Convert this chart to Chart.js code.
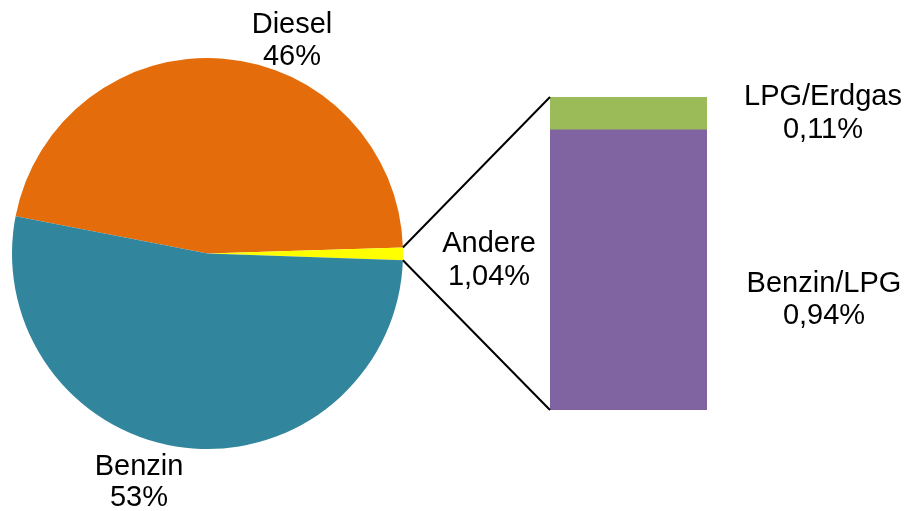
<!DOCTYPE html>
<html>
<head>
<meta charset="utf-8">
<script src="https://cdn.jsdelivr.net/npm/chart.js@4.4.0/dist/chart.umd.min.js"></script>
<style>
	html, body { margin: 0; padding: 0; background: #fff; }
	#wrap { position: relative; width: 905px; height: 511px; }
	#wrap canvas { position: absolute; left: 0; top: 0; }
</style>
</head>
<body>
<div id="wrap">
	<canvas id="pieChart" width="905" height="511"></canvas>
	<canvas id="barChart" width="905" height="511"></canvas>
</div>
<script>
// pie: main fuel types (percent)
let pieLabels = ['Diesel', 'Andere', 'Benzin'];
let pieValues = [46.45, 1.04, 52.51];
let pieColors = ['#E46C0A', '#FFFF00', '#31859C'];

// bar: breakdown of "Andere" (percent)
let barLabels = ['Benzin/LPG', 'LPG/Erdgas'];
let barValues = [0.94, 0.11];
let barColors = ['#8064A2', '#9BBB59'];

let labelFont = '29px "Liberation Sans", Arial, sans-serif';

// label anchors: centre x and two baselines
let pieLabelPos = {
	'Diesel': [292, 33, 65],
	'Andere': [489, 252, 285],
	'Benzin': [139, 475, 506]
};
let barLabelPos = {
	'Benzin/LPG': [824, 292, 324],
	'LPG/Erdgas': [823, 105, 138]
};

function fmt(v, dec) {
	return v.toFixed(dec).replace('.', ',') + '%';
}

function drawLabel(ctx, pos, name, value) {
	ctx.save();
	ctx.font = labelFont;
	ctx.fillStyle = '#000';
	ctx.textAlign = 'center';
	ctx.textBaseline = 'alphabetic';
	ctx.fillText(name, pos[0], pos[1]);
	ctx.fillText(value, pos[0], pos[2]);
	ctx.restore();
}

let pieLabelPlugin = {
	id: 'pieLabels',
	afterDraw(chart) {
		let ctx = chart.ctx;
		pieLabels.forEach(function (name, i) {
			let dec = name === 'Andere' ? 2 : 0;
			drawLabel(ctx, pieLabelPos[name], name, fmt(pieValues[i], dec));
		});
	}
};

let pie = new Chart('pieChart', {
	type: 'pie',
	data: {
		labels: pieLabels,
		datasets: [{
			data: pieValues,
			backgroundColor: pieColors,
			borderWidth: 0
		}]
	},
	options: {
		responsive: false,
		animation: false,
		rotation: 281,
		layout: { padding: { left: 12, right: 502, top: 58, bottom: 62 } },
		plugins: { legend: { display: false }, tooltip: { enabled: false } }
	},
	plugins: [pieLabelPlugin]
});

let connectorPlugin = {
	id: 'connector',
	afterDraw(chart) {
		let ctx = chart.ctx;
		let arc = pie.getDatasetMeta(0).data[pieLabels.indexOf('Andere')];
		let p = arc.getProps(['x', 'y', 'startAngle', 'endAngle', 'outerRadius'], true);
		let barBottom = chart.getDatasetMeta(0).data[0];
		let barTop = chart.getDatasetMeta(barValues.length - 1).data[0];
		let left = barTop.x - barTop.width / 2;

		ctx.save();
		ctx.strokeStyle = '#000';
		ctx.lineWidth = 2;
		ctx.beginPath();
		ctx.moveTo(p.x + p.outerRadius * Math.cos(p.startAngle), p.y + p.outerRadius * Math.sin(p.startAngle));
		ctx.lineTo(left, barTop.y);
		ctx.moveTo(p.x + p.outerRadius * Math.cos(p.endAngle), p.y + p.outerRadius * Math.sin(p.endAngle));
		ctx.lineTo(left, barBottom.base);
		ctx.stroke();
		ctx.restore();

		barLabels.forEach(function (name, i) {
			drawLabel(ctx, barLabelPos[name], name, fmt(barValues[i], 2));
		});
	}
};

new Chart('barChart', {
	type: 'bar',
	data: {
		labels: ['Andere'],
		datasets: barLabels.map(function (name, i) {
			return {
				label: name,
				data: [barValues[i]],
				backgroundColor: barColors[i],
				borderWidth: 0,
				barPercentage: 1,
				categoryPercentage: 1
			};
		})
	},
	options: {
		responsive: false,
		animation: false,
		layout: { padding: { left: 550, right: 198, top: 97, bottom: 101 } },
		scales: {
			x: { display: false, stacked: true },
			y: { display: false, stacked: true, min: 0, max: barValues.reduce(function (a, b) { return a + b; }, 0) }
		},
		plugins: { legend: { display: false }, tooltip: { enabled: false } }
	},
	plugins: [connectorPlugin]
});
</script>
</body>
</html>
